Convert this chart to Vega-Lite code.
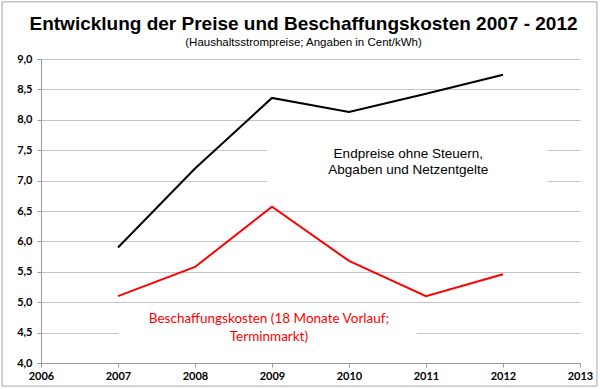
{
  "$schema": "https://vega.github.io/schema/vega-lite/v6.json",
  "width": 539,
  "height": 304,
  "autosize": {"type": "none"},
  "padding": {"left": 41, "top": 59, "right": 20, "bottom": 26},
  "background": "white",
  "config": {"view": {"stroke": null}},
  "title": {
    "text": "Entwicklung der Preise und Beschaffungskosten 2007 - 2012",
    "subtitle": "(Haushaltsstrompreise; Angaben in Cent/kWh)",
    "anchor": "middle",
    "frame": "group",
    "font": "Liberation Sans",
    "fontSize": 19,
    "fontWeight": "bold",
    "color": "black",
    "subtitleFont": "Liberation Sans",
    "subtitleFontSize": 11.5,
    "subtitleColor": "black",
    "subtitlePadding": 3,
    "offset": -47,
    "dx": -7
  },
  "datasets": {
    "frame": [{"x": 2005.494, "x2": 2013.22, "y": 3.62, "y2": 9.94}],
    "boxes": [
      {"x": 2008.94, "x2": 2012.58, "y": 6.8, "y2": 7.7},
      {"x": 2007.01, "x2": 2010.88, "y": 4.2, "y2": 4.85}
    ],
    "series": [
      {"x": 2007, "y": 5.90, "series": "Endpreise"},
      {"x": 2008, "y": 7.20, "series": "Endpreise"},
      {"x": 2009, "y": 8.36, "series": "Endpreise"},
      {"x": 2010, "y": 8.13, "series": "Endpreise"},
      {"x": 2011, "y": 8.43, "series": "Endpreise"},
      {"x": 2012, "y": 8.74, "series": "Endpreise"},
      {"x": 2007, "y": 5.10, "series": "Beschaffungskosten"},
      {"x": 2008, "y": 5.58, "series": "Beschaffungskosten"},
      {"x": 2009, "y": 6.57, "series": "Beschaffungskosten"},
      {"x": 2010, "y": 5.68, "series": "Beschaffungskosten"},
      {"x": 2011, "y": 5.10, "series": "Beschaffungskosten"},
      {"x": 2012, "y": 5.46, "series": "Beschaffungskosten"}
    ],
    "blackLabel": [
      {"x": 2010.77, "y": 7.44, "text": "Endpreise ohne Steuern,"},
      {"x": 2010.77, "y": 7.17, "text": "Abgaben und Netzentgelte"}
    ],
    "redLabel": [
      {"x": 2008.96, "y": 4.72, "text": "Beschaffungskosten (18 Monate Vorlauf;"},
      {"x": 2008.96, "y": 4.43, "text": "Terminmarkt)"}
    ]
  },
  "encoding": {
    "x": {
      "field": "x", "type": "quantitative",
      "scale": {"domain": [2006, 2013], "nice": false, "zero": false},
      "axis": {
        "title": null, "values": [2006, 2007, 2008, 2009, 2010, 2011, 2012, 2013],
        "format": "d", "grid": false,
        "labelFont": "Lato", "labelFontWeight": "bold", "labelFontSize": 11, "labelColor": "black",
        "domainColor": "#9a9a9a", "tickColor": "#9a9a9a", "tickSize": 4, "labelPadding": 3,
        "labelFlush": false
      }
    },
    "y": {
      "field": "y", "type": "quantitative",
      "scale": {"domain": [4, 9], "nice": false, "zero": false},
      "axis": {
        "title": null, "values": [4, 4.5, 5, 5.5, 6, 6.5, 7, 7.5, 8, 8.5, 9],
        "labelExpr": "replace(format(datum.value, '.1f'), '.', ',')",
        "grid": true, "gridColor": "#c4c4c4", "gridWidth": 1,
        "labelFont": "Lato", "labelFontWeight": "bold", "labelFontSize": 11, "labelColor": "black",
        "domainColor": "#9a9a9a", "tickColor": "#9a9a9a", "tickSize": 4, "labelPadding": 5
      }
    }
  },
  "layer": [
    {
      "data": {"name": "frame"},
      "mark": {"type": "rect", "fill": "white", "fillOpacity": 0, "stroke": "#a6a6a6", "strokeWidth": 1, "clip": false},
      "encoding": {
        "x2": {"field": "x2"},
        "y2": {"field": "y2"}
      }
    },
    {
      "data": {"name": "boxes"},
      "mark": {"type": "rect", "fill": "white", "strokeWidth": 0},
      "encoding": {
        "x2": {"field": "x2"},
        "y2": {"field": "y2"}
      }
    },
    {
      "data": {"name": "series"},
      "mark": {"type": "line", "strokeWidth": 2},
      "encoding": {
        "color": {
          "field": "series", "type": "nominal",
          "scale": {"domain": ["Endpreise", "Beschaffungskosten"], "range": ["#000000", "#ff0000"]},
          "legend": null
        }
      }
    },
    {
      "data": {"name": "blackLabel"},
      "mark": {"type": "text", "font": "Liberation Sans", "fontSize": 13.5, "color": "black", "align": "center", "baseline": "middle"},
      "encoding": {
        "text": {"field": "text"}
      }
    },
    {
      "data": {"name": "redLabel"},
      "mark": {"type": "text", "font": "Lato", "fontSize": 13.5, "color": "#ff0000", "align": "center", "baseline": "middle"},
      "encoding": {
        "text": {"field": "text"}
      }
    }
  ]
}
